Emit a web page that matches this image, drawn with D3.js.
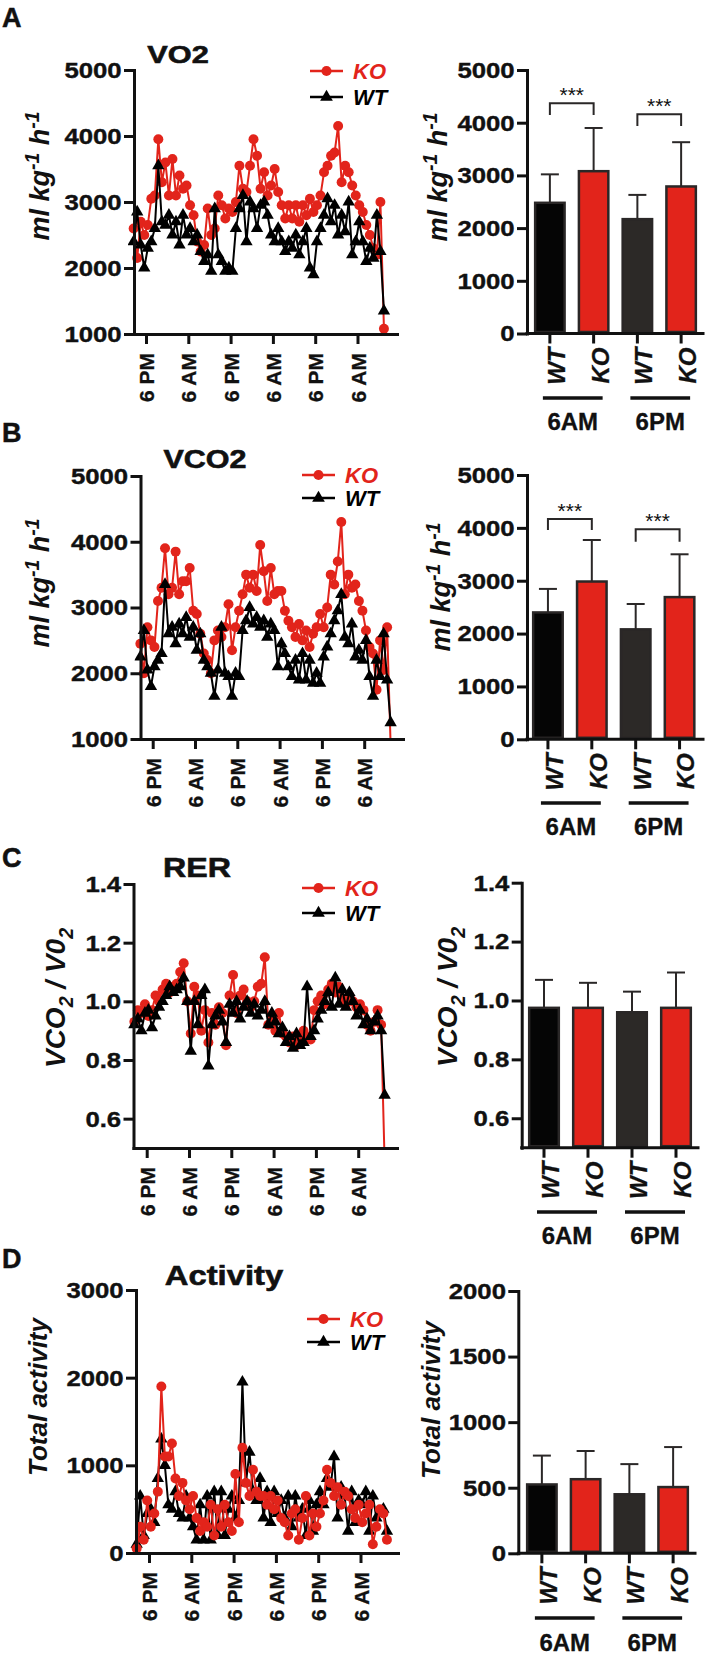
<!DOCTYPE html>
<html><head><meta charset="utf-8">
<script src="https://cdn.jsdelivr.net/npm/d3@7"></script>
<style>
body{margin:0;background:#fff}
svg text{font-family:"Liberation Sans",Arial,Helvetica,sans-serif;font-weight:bold;fill:#111}
</style></head>
<body><svg id="chart" width="709" height="1660"></svg>
<script>
// ---------------- DATA ----------------
const timeTicks = [0, 12, 24, 36, 48, 60];            // hours after first 6 PM
const timeTickLabels = ["6 PM","6 AM","6 PM","6 AM","6 PM","6 AM"];
const hours = d3.range(72).map(i => -3.5 + i);       // hourly sampling

const vo2KO = [2600,2150,2700,2500,2650,3050,3100,3950,3300,3600,
  3100,3650,3100,3400,3200,3250,2950,2800,2400,2250,
  2350,2900,2500,2600,3100,2950,2750,2900,2850,3000,
  3550,3200,3150,3550,3950,3700,3200,3450,3100,3250,
  3500,3150,2950,2750,2950,2750,2950,2700,2950,2800,
  3050,2850,2950,3100,3450,3550,3700,3750,4150,3300,
  3550,3450,3250,3100,2950,2850,2650,2500,2300,2200,3000,1080];
const vo2WT = [2400,2850,2350,2000,2300,2400,2600,3550,2700,2650,
  2800,2500,2700,2350,2800,2500,2600,2400,2500,2250,
  2100,2200,1950,2900,2200,2100,1950,2000,1950,2600,
  2900,3100,2400,3000,2900,2600,2950,3000,2800,2500,
  2400,2600,2400,2250,2400,2300,2500,2200,2400,2600,
  2000,1900,2400,2600,2800,3050,2700,2950,2500,2800,
  2550,3000,2200,2400,2700,2400,2100,2300,2150,2800,2250,1350];

const vco2KO = [2450,2000,2700,2500,2400,3100,3300,3900,3200,3300,
  3850,3200,3400,3400,3600,2950,2900,2600,2300,2200,
  2000,2500,2650,2550,2700,3050,2350,2700,2950,3200,
  3500,3300,3500,3250,3950,3550,3100,3600,3200,3250,
  3250,2950,2800,2700,2550,2750,2500,2650,2400,2600,
  2700,2900,2700,3000,3500,3350,3700,4300,3200,3500,
  3300,3350,3100,2950,2650,2400,2300,1750,2500,2050,2700,900];
const vco2WT = [2250,2650,2050,1800,2100,2200,2300,3350,2600,2700,
  2450,2750,2600,2850,2550,2700,2350,2600,2200,2100,
  2000,1650,2050,2700,2000,1950,1650,2000,1950,2650,
  2800,3000,2750,2850,2700,2800,2550,2750,2650,2100,
  2450,2300,2100,1950,2200,1900,2300,1900,2200,1850,
  2000,1850,2250,2400,2600,2800,2950,3200,2550,2450,
  2750,2250,2350,2200,2500,1950,1650,2200,1950,2600,1900,1250];

const rerKO = [0.93,0.97,0.96,0.99,0.95,0.97,1.02,1.00,1.04,1.06,
  1.03,1.05,1.06,1.10,1.13,1.00,0.89,1.05,1.02,0.90,
  0.97,0.86,0.96,0.92,0.98,0.96,0.85,1.02,1.09,0.96,
  1.02,1.04,1.00,0.98,1.00,1.05,1.06,1.15,0.92,0.94,
  0.90,0.96,0.89,0.88,0.86,0.88,0.85,0.87,0.90,0.88,
  0.87,0.97,1.00,1.02,0.99,1.04,1.06,1.03,1.05,1.01,
  0.99,1.02,1.00,0.98,0.99,0.97,0.92,0.90,0.93,0.97,0.92,0.45];
const rerWT = [0.92,0.94,0.90,0.96,0.97,0.91,0.95,0.98,1.00,1.02,
  1.05,1.03,1.04,1.05,1.08,1.00,0.83,1.00,0.92,1.02,
  1.04,0.78,0.92,0.95,0.97,0.93,0.86,0.99,0.96,1.00,
  0.94,0.98,1.00,0.96,0.99,0.95,0.97,1.00,0.92,0.96,
  0.93,0.89,0.91,0.86,0.88,0.84,0.89,0.85,0.86,1.05,
  0.88,0.90,0.94,0.97,1.00,1.03,0.98,1.08,0.99,1.04,
  0.98,1.03,1.00,0.95,0.97,0.92,0.94,0.90,0.93,0.95,0.90,0.68];

const actKO = [50,300,150,600,300,450,700,1900,1100,1100,
  1250,850,650,800,600,500,650,400,250,350,
  300,550,200,500,300,550,350,250,900,350,
  1200,800,650,950,700,650,650,550,650,500,
  600,400,350,200,450,500,150,400,650,200,
  450,300,450,600,950,800,650,750,550,700,
  650,500,400,550,350,450,550,100,300,500,450,150];
const actWT = [100,650,200,450,500,350,850,1300,1000,550,
  500,700,450,400,650,400,300,150,550,150,
  650,150,700,200,700,200,500,650,400,600,
  1950,800,1150,700,600,850,400,700,350,700,
  450,600,400,650,300,650,400,500,200,600,
  250,550,700,550,850,750,1100,400,750,650,
  250,700,350,600,550,700,250,650,400,450,500,250];

const barCategories = ["WT-6AM","KO-6AM","WT-6PM","KO-6PM"];
const barGenotypes = ["WT","KO","WT","KO"];
const barGroups = ["6AM","6PM"];
const vo2BarMean = [2480,3080,2170,2790];
const vo2BarErr  = [540,820,460,840];
const vco2BarMean = [2400,2985,2080,2690];
const vco2BarErr  = [445,785,480,810];
const rerBarMean = [0.975,0.975,0.96,0.975];
const rerBarErr  = [0.095,0.085,0.07,0.12];
const actBarMean = [525,565,450,505];
const actBarErr  = [220,215,230,305];

// ---------------- DRAWING ----------------
const svg = d3.select("#chart");
const RED = "#e2241b", INK = "#111", EDGE = "#2a2727";
const barFill = ["#050505", RED, "#2c2927", RED];
const PX_PER_HOUR = 42.3/12;

function styleAxis(g){
  g.select(".domain").attr("stroke",INK).attr("stroke-width",3).attr("stroke-linecap","square");
  g.selectAll(".tick line").attr("stroke",INK).attr("stroke-width",3);
}
function yTickText(g, size){
  g.selectAll(".tick text").style("font-size",size+"px").attr("x",-11)
    .attr("transform","scale(1.12,1)").attr("fill",INK)
    .style("stroke",INK).style("stroke-width","0.4px");
}
function title(x,y,txt,size,sx){
  svg.append("text").attr("transform",`translate(${x},${y}) scale(${sx},1)`)
    .attr("text-anchor","middle").style("font-size",size+"px")
    .style("stroke","#111").style("stroke-width","0.6px").text(txt);
}
function yLabel(x,y,parts,size,italic){
  const t = svg.append("text").attr("transform",`translate(${x},${y}) rotate(-90)`)
    .attr("text-anchor","middle").style("font-size",size+"px")
    .style("font-style",italic?"italic":"normal");
  let shift = 0;
  parts.forEach(p=>{
    const s = t.append("tspan").text(p.t);
    let target = 0;
    if(p.sup){ target = -size*0.38; s.style("font-size",(size*0.72)+"px"); }
    if(p.sub){ target = size*0.28; s.style("font-size",(size*0.7)+"px"); }
    s.attr("dy", (target-shift)+"px");
    shift = target;
  });
}
const mlLabel = [{t:"ml kg"},{t:"-1",sup:true},{t:" h"},{t:"-1",sup:true}];
const rerLabel = [{t:"VCO"},{t:"2",sub:true},{t:" / V0"},{t:"2",sub:true}];
const actLabel = [{t:"Total activity"}];

function linePanel(o){
  const x = d3.scaleLinear()
    .domain([-(o.hour0X-o.axisX)/PX_PER_HOUR, (o.endX-o.hour0X)/PX_PER_HOUR])
    .range([o.axisX,o.endX]);
  const y = d3.scaleLinear().domain(o.domain).range([o.yBot,o.yTop]);
  const clipId = "clip"+o.id;
  svg.append("clipPath").attr("id",clipId).append("rect")
    .attr("x",o.axisX-6).attr("y",o.yTop-20).attr("width",o.endX-o.axisX+6).attr("height",o.yBot-o.yTop+20);
  const plot = svg.append("g").attr("clip-path",`url(#${clipId})`);
  const series = [{vals:o.ko,color:RED,circle:true},{vals:o.wt,color:"#000",circle:false}];
  const order = o.redOnTop ? [series[1],series[0]] : series;
  order.forEach(s=>{
    const pts = hours.map((h,i)=>[h,s.vals[i]]);
    plot.append("path").datum(pts).attr("fill","none").attr("stroke",s.color)
      .attr("stroke-width",2).attr("stroke-linejoin","round")
      .attr("d",d3.line().x(d=>x(d[0])).y(d=>y(d[1])));
    const sym = d3.symbol().type(s.circle?d3.symbolCircle:d3.symbolTriangle).size(s.circle?78:66);
    plot.selectAll(null).data(pts).join("path")
      .attr("transform",d=>`translate(${x(d[0])},${y(d[1])})`)
      .attr("d",sym).attr("fill",s.color);
  });
  const ya = svg.append("g").attr("transform",`translate(${o.axisX},0)`)
    .call(d3.axisLeft(y).tickValues(o.ticks).tickSize(10).tickSizeOuter(0).tickFormat(o.fmt));
  styleAxis(ya); yTickText(ya,23);
  const xa = svg.append("g").attr("transform",`translate(0,${o.yBot})`)
    .call(d3.axisBottom(x).tickValues(timeTicks).tickSize(10).tickSizeOuter(0)
      .tickFormat((d,i)=>timeTickLabels[i]));
  styleAxis(xa);
  xa.selectAll(".tick text").attr("transform","rotate(-90)").attr("y",0).attr("x",-19)
    .attr("dy","0.36em").style("text-anchor","end").style("font-size","21px").attr("fill",INK)
    .style("stroke",INK).style("stroke-width","0.3px");
  // legend
  const lg = svg.append("g");
  [{lab:"KO",color:RED,circle:true,y:o.legY[0]},{lab:"WT",color:"#000",circle:false,y:o.legY[1]}].forEach(e=>{
    lg.append("line").attr("x1",o.legX).attr("x2",o.legX+33).attr("y1",e.y).attr("y2",e.y)
      .attr("stroke",e.color).attr("stroke-width",2.5);
    lg.append("path").attr("transform",`translate(${o.legX+16.5},${e.y})`)
      .attr("d",d3.symbol().type(e.circle?d3.symbolCircle:d3.symbolTriangle).size(e.circle?80:70)())
      .attr("fill",e.color);
    lg.append("text").attr("x",o.legX+43).attr("y",e.y+8).style("font-size","22px")
      .style("font-style","italic").style("fill",e.color).text(e.lab);
  });
}

function barPanel(o){
  const x = d3.scaleBand().domain(barCategories).range([o.x0,o.x1]).paddingInner(0.27).paddingOuter(0.135);
  const y = d3.scaleLinear().domain(o.domain).range([o.yBot,o.yTop]);
  const cx = c => x(c)+x.bandwidth()/2;
  const g = svg.append("g");
  barCategories.forEach((c,i)=>{
    const top = y(o.mean[i]+o.err[i]);
    g.append("line").attr("x1",cx(c)).attr("x2",cx(c)).attr("y1",y(o.mean[i])).attr("y2",top)
      .attr("stroke",EDGE).attr("stroke-width",2);
    g.append("line").attr("x1",cx(c)-9).attr("x2",cx(c)+9).attr("y1",top).attr("y2",top)
      .attr("stroke",EDGE).attr("stroke-width",2);
  });
  g.selectAll(null).data(barCategories).join("rect")
    .attr("x",c=>x(c)+1.25).attr("width",x.bandwidth()-2.5)
    .attr("y",(c,i)=>y(o.mean[i])).attr("height",(c,i)=>o.yBot-y(o.mean[i])-1.5)
    .attr("fill",(c,i)=>barFill[i]).attr("stroke",EDGE).attr("stroke-width",2.5);
  const ya = svg.append("g").attr("transform",`translate(${o.axisX},0)`)
    .call(d3.axisLeft(y).tickValues(o.ticks).tickSize(10).tickSizeOuter(0).tickFormat(o.fmt));
  styleAxis(ya); yTickText(ya,23);
  svg.append("line").attr("x1",o.axisX).attr("x2",o.xEnd).attr("y1",o.yBot).attr("y2",o.yBot)
    .attr("stroke",INK).attr("stroke-width",3).attr("stroke-linecap","square");
  barCategories.forEach((c,i)=>{
    svg.append("line").attr("x1",cx(c)).attr("x2",cx(c)).attr("y1",o.yBot).attr("y2",o.yBot+10)
      .attr("stroke",INK).attr("stroke-width",3);
    svg.append("text").attr("transform",`translate(${cx(c)},${o.yBot+14}) rotate(-90)`)
      .attr("dy","0.62em").attr("text-anchor","end").style("font-size","24px")
      .style("font-style","italic").style("stroke",INK).style("stroke-width","0.3px")
      .text(barGenotypes[i]);
  });
  barGroups.forEach((gr,k)=>{
    const a = cx(barCategories[2*k])-7, b = cx(barCategories[2*k+1])+9;
    svg.append("line").attr("x1",a).attr("x2",b).attr("y1",o.groupLineY).attr("y2",o.groupLineY)
      .attr("stroke",INK).attr("stroke-width",3.5);
    svg.append("text").attr("x",(a+b)/2).attr("y",o.groupTextY).attr("text-anchor","middle")
      .style("font-size","24px").style("stroke",INK).style("stroke-width","0.3px").text(gr);
  });
  (o.brackets||[]).forEach(br=>{
    const a = cx(barCategories[br.a]), b = cx(barCategories[br.b]);
    const yt = y(br.top), yl = y(br.leg);
    svg.append("path").attr("d",`M${a},${yl}V${yt}H${b}V${yl}`).attr("fill","none")
      .attr("stroke",EDGE).attr("stroke-width",2);
    svg.append("text").attr("x",(a+b)/2).attr("y",yt-1).attr("text-anchor","middle")
      .style("font-size","21px").style("font-weight","normal").text("***");
  });
}

// panel letters
[["A",27],["B",442],["C",867],["D",1268]].forEach(([t,yy])=>
  svg.append("text").attr("x",2).attr("y",yy).style("font-size","27px")
    .style("stroke","#111").style("stroke-width","0.5px").text(t));

// ---- Panel A ----
linePanel({id:"A",ko:vo2KO,wt:vo2WT,axisX:134,hour0X:146,endX:397,yTop:70,yBot:334,
  domain:[1000,5000],ticks:[1000,2000,3000,4000,5000],fmt:d3.format("d"),redOnTop:false,
  legX:310,legY:[71,97]});
title(178,63,"VO2",24,1.28);
yLabel(49,176,mlLabel,27,true);
barPanel({axisX:527,x0:528,x1:703,xEnd:703,yTop:70,yBot:333.5,domain:[0,5000],
  ticks:[0,1000,2000,3000,4000,5000],fmt:d3.format("d"),mean:vo2BarMean,err:vo2BarErr,
  groupLineY:398,groupTextY:430,
  brackets:[{a:0,b:1,top:4368,leg:4146},{a:2,b:3,top:4159,leg:3937}]});
yLabel(447,177,mlLabel,27,true);

// ---- Panel B ----
linePanel({id:"B",ko:vco2KO,wt:vco2WT,axisX:140.5,hour0X:152.7,endX:403,yTop:476,yBot:739,
  domain:[1000,5000],ticks:[1000,2000,3000,4000,5000],fmt:d3.format("d"),redOnTop:false,
  legX:302,legY:[475,498]});
title(205,468,"VCO2",25,1.22);
yLabel(49,583,mlLabel,27,true);
barPanel({axisX:527,x0:526,x1:701.5,xEnd:703,yTop:475,yBot:739.3,domain:[0,5000],
  ticks:[0,1000,2000,3000,4000,5000],fmt:d3.format("d"),mean:vco2BarMean,err:vco2BarErr,
  groupLineY:803,groupTextY:835,
  brackets:[{a:0,b:1,top:4168,leg:3960},{a:2,b:3,top:3973,leg:3738}]});
yLabel(450,587,mlLabel,27,true);

// ---- Panel C ----
linePanel({id:"C",ko:rerKO,wt:rerWT,axisX:133.5,hour0X:146.7,endX:397,yTop:884,yBot:1148,
  domain:[0.5,1.4],ticks:[0.6,0.8,1.0,1.2,1.4],fmt:d3.format(".1f"),redOnTop:false,
  legX:302,legY:[888,913]});
title(197,877,"RER",28,1.15);
yLabel(65,998,rerLabel,28,true);
barPanel({axisX:521.7,x0:522,x1:698,xEnd:698,yTop:882.7,yBot:1147.7,domain:[0.5,1.4],
  ticks:[0.6,0.8,1.0,1.2,1.4],fmt:d3.format(".1f"),mean:rerBarMean,err:rerBarErr,
  groupLineY:1212,groupTextY:1244});
yLabel(457,997,rerLabel,28,true);

// ---- Panel D ----
linePanel({id:"D",ko:actKO,wt:actWT,axisX:136,hour0X:149,endX:398,yTop:1290,yBot:1553,
  domain:[0,3000],ticks:[0,1000,2000,3000],fmt:d3.format("d"),redOnTop:true,
  legX:307,legY:[1319,1342]});
title(224,1285,"Activity",28,1.17);
yLabel(47,1397,actLabel,26,true);
barPanel({axisX:518.3,x0:520,x1:695,xEnd:695,yTop:1291,yBot:1553.3,domain:[0,2000],
  ticks:[0,500,1000,1500,2000],fmt:d3.format("d"),mean:actBarMean,err:actBarErr,
  groupLineY:1618,groupTextY:1651});
yLabel(440,1400,actLabel,26,true);
</script>
</body></html>
